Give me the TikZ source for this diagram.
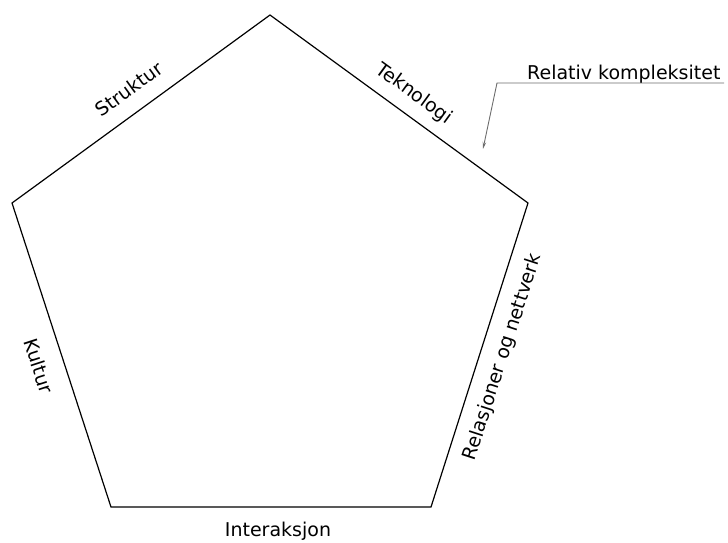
\documentclass[tikz,border=0pt]{standalone}
\usepackage{fontspec}
\setmainfont{DejaVu Sans}
\usetikzlibrary{arrows.meta}
\begin{document}
\begin{tikzpicture}[x=1pt,y=-1pt,
  edge/.style={draw=black,line width=1.2pt,line join=miter},
  lbl/.style={font=\fontsize{19}{22}\selectfont,inner sep=0pt},
  annot/.style={draw=gray!85!black,line width=0.9pt}]
\useasboundingbox (0,0) rectangle (728,542);
% corners of the pentagon
\coordinate (top) at (270,15);
\coordinate (right) at (528,203);
\coordinate (br) at (431,507);
\coordinate (bl) at (111,507);
\coordinate (left) at (12,203);
\draw[edge] (top) -- (right) -- (br) -- (bl) -- (left) -- cycle;
% side labels
\node[lbl,rotate=36] (struktur) at (129,89) {Struktur};
\node[lbl,rotate=-36] (teknologi) at (414,94) {Teknologi};
\node[lbl,rotate=-72] (kultur) at (39,366) {Kultur};
\node[lbl,rotate=72] (relasjoner) at (503,357) {Relasjoner og nettverk};
\node[lbl] (interaksjon) at (278,531) {Interaksjon};
% annotation
\node[lbl,anchor=base west] (relativ) at (527,79) {Relativ kompleksitet};
\coordinate (ulend) at (724,83);
\coordinate (elbow) at (497,83);
\coordinate (tip) at (483,149);
\draw[annot,-{Stealth[length=7pt,width=3.5pt]}] (ulend) -- (elbow) -- (tip);
\end{tikzpicture}
\end{document}
